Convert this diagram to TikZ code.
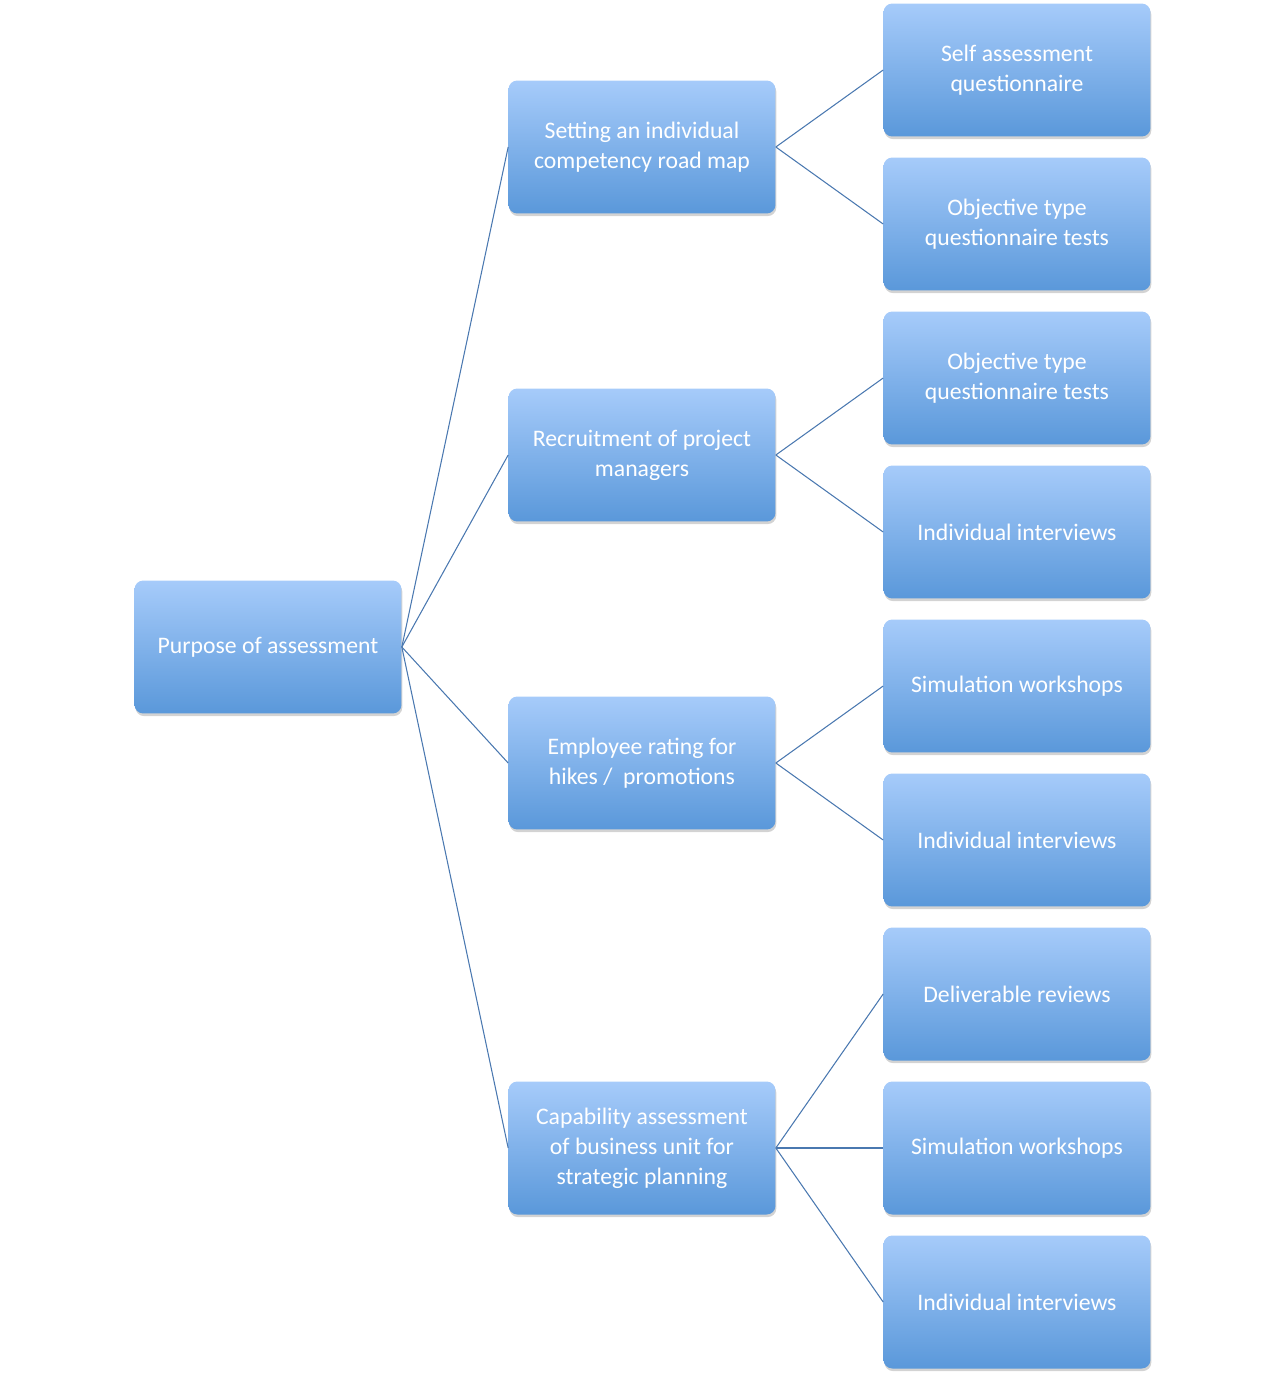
\documentclass[tikz,border=0pt]{standalone}
\usepackage{fontspec}
\setmainfont{Carlito}
\usetikzlibrary{shadows}
\definecolor{boxtop}{HTML}{A6CBFA}
\definecolor{boxbot}{HTML}{5A98DA}
\definecolor{linkcol}{HTML}{4A78B0}
\tikzset{
  box/.style={rectangle, rounded corners=5pt, minimum width=5.34cm, minimum height=2.66cm,
    top color=boxtop, bottom color=boxbot, draw=none, text=white, align=center,
    font=\fontsize{13.5}{17}\selectfont, inner sep=2pt,
    drop shadow={shadow xshift=0.5pt, shadow yshift=-1.5pt, opacity=0.35}},
  link/.style={draw=linkcol, line width=0.6pt}
}
\begin{document}
\begin{tikzpicture}[x=0.02cm, y=-0.02cm]
			\useasboundingbox (0,0) rectangle (1285,1380);

			% root
			\node[box] (purpose) at (268,647) {Purpose of assessment};

			% first level
			\node[box] (roadmap) at (642,147) {Setting an individual\\competency road map};
			\node[box] (recruit) at (642,455) {Recruitment of project\\managers};
			\node[box] (rating) at (642,763) {Employee rating for\\hikes /\ \ promotions};
			\node[box] (capab) at (642,1148) {Capability assessment\\of business unit for\\strategic planning};

			% second level
			\node[box] (selfq) at (1017,70) {Self assessment\\questionnaire};
			\node[box] (objA) at (1017,224) {Objective type\\questionnaire tests};
			\node[box] (objB) at (1017,378) {Objective type\\questionnaire tests};
			\node[box] (intA) at (1017,532) {Individual interviews};
			\node[box] (simA) at (1017,686) {Simulation workshops};
			\node[box] (intB) at (1017,840) {Individual interviews};
			\node[box] (deliv) at (1017,994) {Deliverable reviews};
			\node[box] (simB) at (1017,1148) {Simulation workshops};
			\node[box] (intC) at (1017,1302) {Individual interviews};

			% connectors
			\foreach \c in {roadmap,recruit,rating,capab}
				\draw[link] (purpose.east) -- (\c.west);
			\draw[link] (roadmap.east) -- (selfq.west);
			\draw[link] (roadmap.east) -- (objA.west);
			\draw[link] (recruit.east) -- (objB.west);
			\draw[link] (recruit.east) -- (intA.west);
			\draw[link] (rating.east) -- (simA.west);
			\draw[link] (rating.east) -- (intB.west);
			\draw[link] (capab.east) -- (deliv.west);
			\draw[link] (capab.east) -- (simB.west);
			\draw[link] (capab.east) -- (intC.west);
		\end{tikzpicture}
\end{document}
